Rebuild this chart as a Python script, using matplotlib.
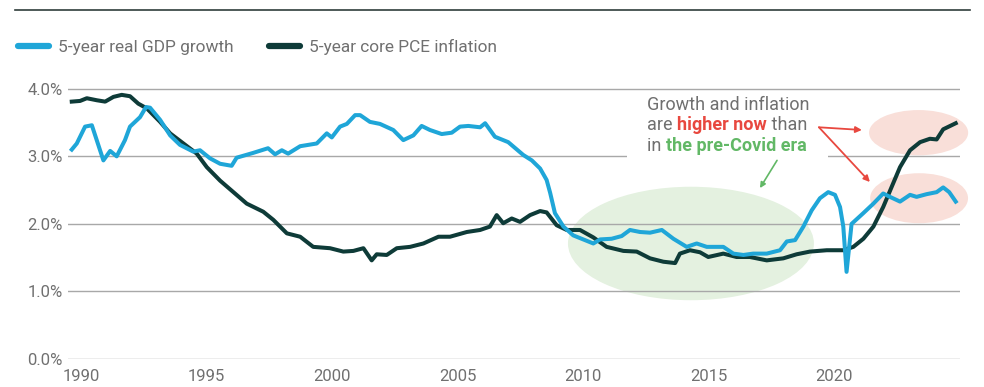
import matplotlib.pyplot as plt
from matplotlib.patches import Ellipse, Rectangle
from matplotlib.lines import Line2D
from matplotlib.offsetbox import TextArea, HPacker, VPacker, AnnotationBbox

plt.rcParams['font.family'] = ['Roboto', 'DejaVu Sans']

# 5-year real GDP growth (%)
gdp_year = [1989.63, 1989.83, 1990.16, 1990.43, 1990.89, 1991.16, 1991.42, 1991.75, 1991.95,
            1992.35, 1992.59, 1992.75, 1993.15, 1993.55, 1993.94, 1994.47, 1994.74, 1995.14,
            1995.54, 1996.00, 1996.20, 1996.85, 1997.45, 1997.73, 1998.00, 1998.25, 1998.73,
            1999.39, 1999.79, 1999.99, 2000.32, 2000.59, 2000.92, 2001.12, 2001.51, 2001.91,
            2002.44, 2002.84, 2003.24, 2003.57, 2003.90, 2004.37, 2004.77, 2005.10, 2005.43,
            2005.90, 2006.10, 2006.49, 2007.02, 2007.62, 2007.96, 2008.29, 2008.55, 2008.69,
            2008.88, 2009.22, 2009.61, 2010.01, 2010.41, 2010.68, 2011.14, 2011.54, 2011.87,
            2012.27, 2012.67, 2013.14, 2013.60, 2014.13, 2014.53, 2014.93, 2015.19, 2015.59,
            2015.99, 2016.39, 2016.78, 2017.32, 2017.85, 2018.12, 2018.45, 2018.78, 2019.11,
            2019.44, 2019.77, 2020.04, 2020.24, 2020.37, 2020.50, 2020.70, 2021.17, 2021.57,
            2021.96, 2022.23, 2022.63, 2023.03, 2023.29, 2023.69, 2024.09, 2024.35, 2024.59,
            2024.85]
gdp = [3.10, 3.19, 3.44, 3.46, 2.94, 3.08, 3.00, 3.24, 3.44,
       3.58, 3.73, 3.72, 3.54, 3.31, 3.17, 3.07, 3.09, 2.97,
       2.89, 2.86, 2.98, 3.05, 3.12, 3.03, 3.09, 3.04, 3.15,
       3.19, 3.34, 3.28, 3.44, 3.48, 3.61, 3.61, 3.51, 3.48,
       3.39, 3.24, 3.31, 3.45, 3.39, 3.33, 3.35, 3.44, 3.45,
       3.43, 3.49, 3.29, 3.21, 3.02, 2.94, 2.82, 2.65, 2.46,
       2.16, 1.96, 1.83, 1.77, 1.71, 1.77, 1.78, 1.82, 1.91,
       1.88, 1.87, 1.91, 1.78, 1.66, 1.71, 1.66, 1.66, 1.66,
       1.56, 1.54, 1.56, 1.56, 1.61, 1.74, 1.76, 1.96, 2.20,
       2.38, 2.47, 2.43, 2.25, 1.96, 1.29, 2.00, 2.16, 2.30,
       2.45, 2.40, 2.33, 2.43, 2.40, 2.44, 2.47, 2.54, 2.47,
       2.33]

# 5-year core PCE inflation (%)
pce_year = [1989.63, 1989.96, 1990.23, 1990.63, 1990.96, 1991.29, 1991.62, 1991.95, 1992.28,
            1992.62, 1993.15, 1993.55, 1994.08, 1994.61, 1995.01, 1995.54, 1996.07, 1996.60,
            1997.26, 1997.66, 1998.20, 1998.73, 1999.25, 1999.92, 2000.45, 2000.85, 2001.25,
            2001.58, 2001.78, 2002.18, 2002.58, 2003.11, 2003.64, 2004.24, 2004.70, 2005.37,
            2005.90, 2006.29, 2006.56, 2006.82, 2007.16, 2007.49, 2007.89, 2008.29, 2008.55,
            2008.95, 2009.35, 2009.88, 2010.41, 2010.94, 2011.61, 2012.14, 2012.67, 2013.20,
            2013.67, 2013.86, 2014.26, 2014.66, 2014.99, 2015.59, 2016.12, 2016.65, 2017.32,
            2017.98, 2018.51, 2019.04, 2019.71, 2020.37, 2020.77, 2021.17, 2021.57, 2021.96,
            2022.30, 2022.63, 2023.03, 2023.43, 2023.82, 2024.09, 2024.35, 2024.85]
pce = [3.81, 3.82, 3.86, 3.83, 3.81, 3.88, 3.91, 3.89, 3.78,
       3.71, 3.51, 3.34, 3.19, 3.04, 2.84, 2.64, 2.47, 2.30,
       2.18, 2.06, 1.86, 1.81, 1.66, 1.64, 1.59, 1.60, 1.64,
       1.46, 1.55, 1.54, 1.64, 1.66, 1.71, 1.81, 1.81, 1.88,
       1.91, 1.96, 2.13, 2.01, 2.08, 2.03, 2.13, 2.19, 2.17,
       1.98, 1.91, 1.91, 1.80, 1.66, 1.60, 1.59, 1.49, 1.44,
       1.42, 1.56, 1.61, 1.58, 1.51, 1.56, 1.51, 1.51, 1.46,
       1.49, 1.55, 1.59, 1.61, 1.61, 1.66, 1.78, 1.96, 2.25,
       2.55, 2.84, 3.09, 3.21, 3.26, 3.25, 3.40, 3.49]

year_ticks = [1990, 1995, 2000, 2005, 2010, 2015, 2020]
pct_ticks = [0, 1, 2, 3, 4]

light_blue = '#1fa6d8'
dark_green = '#0e3b38'
grey_txt = '#707070'

fig = plt.figure(figsize=(9.84, 3.87), dpi=100)
ax = fig.add_axes([68 / 984, 28 / 387, 892 / 984, 279 / 387])
ax.set_xlim(1989.48, 2025.02)
ax.set_ylim(0, 4.13)

# highlight areas
ax.add_patch(Ellipse((2014.3, 1.71), 9.8, 1.68, facecolor='#e4f1e0', edgecolor='none', zorder=0.3))
ax.add_patch(Ellipse((2023.37, 3.35), 3.95, 0.67, facecolor='#f9dfd9', edgecolor='none',
                     zorder=0.3, clip_on=False))
ax.add_patch(Ellipse((2023.39, 2.38), 3.9, 0.74, facecolor='#f9dfd9', edgecolor='none',
                     zorder=0.3, clip_on=False))

ax.plot(pce_year, pce, color=dark_green, lw=2.9, solid_joinstyle='round', zorder=3)
ax.plot(gdp_year, gdp, color=light_blue, lw=2.9, solid_joinstyle='round', zorder=4)

ax.set_xticks(year_ticks)
ax.set_xticklabels([str(y) for y in year_ticks])
ax.set_yticks(pct_ticks)
ax.set_yticklabels([f'{v:.1f}%' for v in pct_ticks])
ax.tick_params(axis='both', length=0, labelsize=12, colors=grey_txt)
ax.tick_params(axis='x', pad=7)
ax.tick_params(axis='y', pad=4)
ax.grid(axis='y', color='#a8a8a8', lw=1.0)
ax.set_axisbelow(True)
for s in ax.spines.values():
    s.set_visible(False)

# legend
handles = [Line2D([], [], color=light_blue, lw=4.5, solid_capstyle='round'),
           Line2D([], [], color=dark_green, lw=4.5, solid_capstyle='round')]
fig.legend(handles, ['5-year real GDP growth', '5-year core PCE inflation'],
           loc='center left', bbox_to_anchor=(18 / 984, 0.879), ncol=2, frameon=False,
           fontsize=12.4, handlelength=1.8, handletextpad=0.5, columnspacing=2.1,
           borderpad=0, borderaxespad=0, labelcolor=grey_txt)

# rule at the top
fig.add_artist(Line2D([15 / 984, 970 / 984], [1 - 10 / 387, 1 - 10 / 387],
                      color='#2f3d3b', lw=1.2))

# white panel behind the callout, breaking the 3% gridline
ax.add_patch(Rectangle((2011.75, 2.93), 8.0, 0.95, facecolor='white', edgecolor='none', zorder=1))

# callout text
fs = 13
red = '#e8483f'
green = '#62b866'
row1 = TextArea('Growth and inflation', textprops=dict(color=grey_txt, fontsize=fs))
row2 = HPacker(children=[TextArea('are ', textprops=dict(color=grey_txt, fontsize=fs)),
                         TextArea('higher now', textprops=dict(color=red, fontsize=fs, fontweight='bold')),
                         TextArea(' than', textprops=dict(color=grey_txt, fontsize=fs))],
               sep=0, pad=0, align='baseline')
row3 = HPacker(children=[TextArea('in ', textprops=dict(color=grey_txt, fontsize=fs)),
                         TextArea('the pre-Covid era', textprops=dict(color=green, fontsize=fs, fontweight='bold'))],
               sep=0, pad=0, align='baseline')
block = VPacker(children=[row1, row2, row3], sep=2, pad=0, align='left')
ab = AnnotationBbox(block, (2012.55, 3.9), xycoords='data', box_alignment=(0, 1),
                    frameon=False, pad=0, zorder=2)
ax.add_artist(ab)

arrow_red = dict(arrowstyle='-|>', color=red, lw=1.3, shrinkA=0, shrinkB=0, mutation_scale=9)
ax.annotate('', xy=(2021.11, 3.39), xytext=(2019.4, 3.43), arrowprops=arrow_red, zorder=5)
ax.annotate('', xy=(2021.43, 2.62), xytext=(2019.4, 3.43), arrowprops=arrow_red, zorder=5)
ax.annotate('', xy=(2017.05, 2.53), xytext=(2017.73, 2.94),
            arrowprops=dict(arrowstyle='-|>', color=green, lw=1.2, shrinkA=0, shrinkB=0,
                            mutation_scale=8), zorder=5)

fig.savefig('out.png', dpi=100)
